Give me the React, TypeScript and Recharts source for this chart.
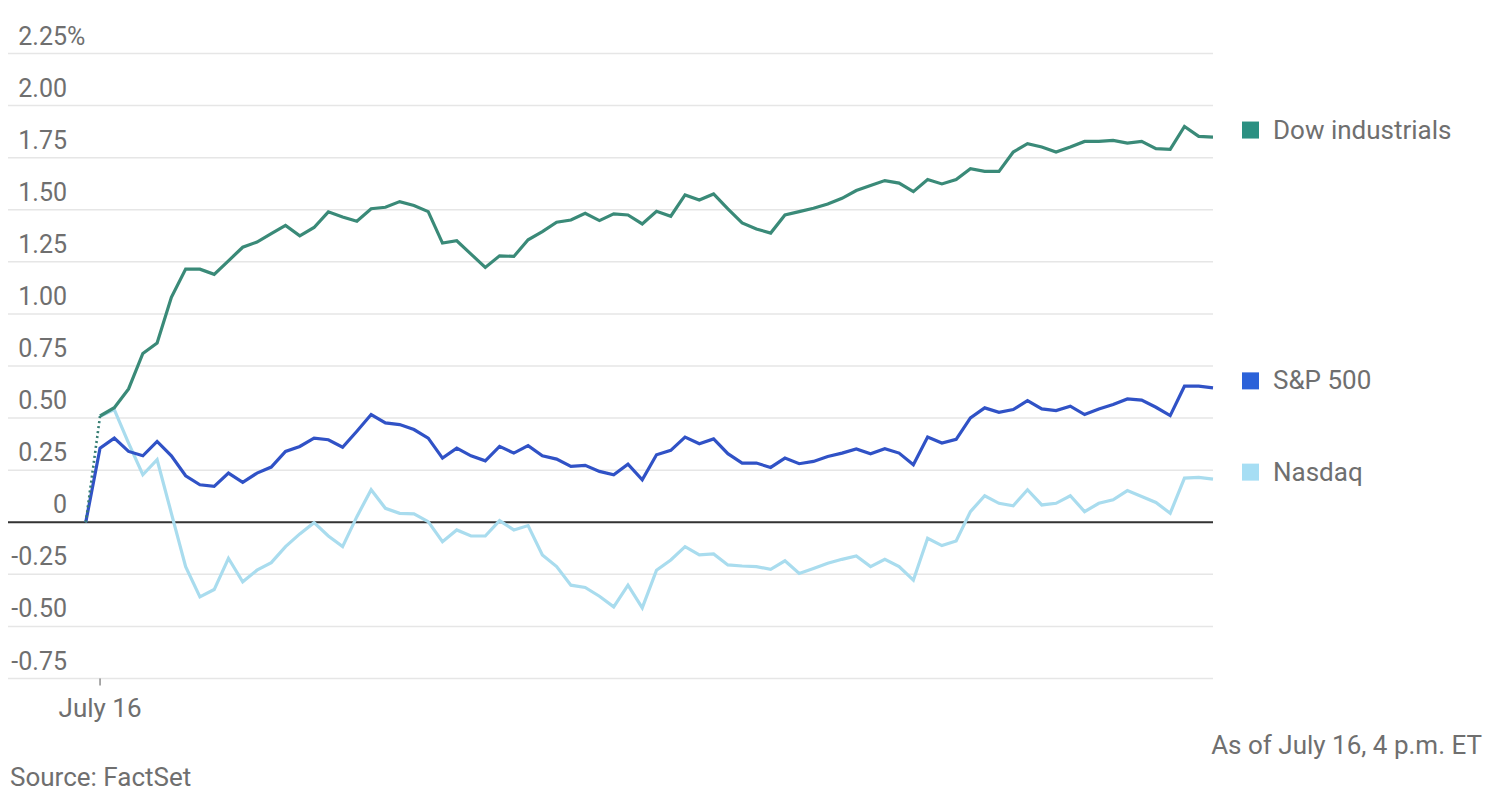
import React from "react";
import {
  LineChart,
  Line,
  XAxis,
  YAxis,
  CartesianGrid,
  ReferenceLine,
} from "recharts";

// index 0 = previous close, 1..79 = 5-minute readings through the session
const dowValues = [
  0, 0.51, 0.55, 0.64, 0.81, 0.86, 1.08, 1.215, 1.215, 1.19, 1.255,
  1.32, 1.345, 1.385, 1.425, 1.375, 1.415, 1.49, 1.465, 1.445, 1.505,
  1.512, 1.539, 1.52, 1.491, 1.34, 1.351, 1.287, 1.223, 1.279, 1.276,
  1.356, 1.395, 1.44, 1.451, 1.483, 1.448, 1.48, 1.475, 1.432, 1.493,
  1.469, 1.571, 1.547, 1.576, 1.504, 1.437, 1.408, 1.388, 1.475, 1.491,
  1.507, 1.528, 1.555, 1.592, 1.616, 1.64, 1.628, 1.587, 1.645, 1.624,
  1.645, 1.697, 1.684, 1.684, 1.777, 1.817, 1.801, 1.777, 1.801, 1.828,
  1.828, 1.833, 1.82, 1.828, 1.793, 1.79, 1.9, 1.852, 1.849,
];

const spValues = [
  0, 0.356, 0.404, 0.34, 0.319, 0.388, 0.319, 0.223, 0.18, 0.172, 0.236,
  0.191, 0.236, 0.265, 0.34, 0.364, 0.404, 0.396, 0.36, 0.437, 0.517,
  0.477, 0.469, 0.445, 0.404, 0.308, 0.356, 0.319, 0.295, 0.364, 0.332,
  0.368, 0.319, 0.303, 0.268, 0.273, 0.244, 0.228, 0.279, 0.204, 0.324,
  0.345, 0.409, 0.377, 0.4, 0.329, 0.284, 0.284, 0.263, 0.308, 0.281,
  0.292, 0.316, 0.332, 0.352, 0.329, 0.353, 0.332, 0.276, 0.409, 0.38,
  0.398, 0.501, 0.549, 0.528, 0.541, 0.584, 0.544, 0.536, 0.557, 0.517,
  0.544, 0.565, 0.592, 0.586, 0.552, 0.512, 0.653, 0.653, 0.645,
];

const nasdaqValues = [
  0, 0.509, 0.541, 0.38, 0.228, 0.3, 0.043, -0.213, -0.358, -0.323, -0.173,
  -0.286, -0.23, -0.194, -0.117, -0.056, -0.002, -0.066, -0.117, 0.027, 0.156,
  0.067, 0.043, 0.04, 0.003, -0.093, -0.037, -0.066, -0.066, 0.008, -0.037,
  -0.016, -0.157, -0.213, -0.302, -0.313, -0.355, -0.406, -0.302, -0.411, -0.23,
  -0.181, -0.117, -0.157, -0.152, -0.205, -0.21, -0.213, -0.226, -0.185, -0.246,
  -0.222, -0.197, -0.178, -0.162, -0.213, -0.178, -0.213, -0.278, -0.077, -0.112,
  -0.09, 0.051, 0.127, 0.091, 0.079, 0.156, 0.083, 0.091, 0.127, 0.051,
  0.091, 0.108, 0.152, 0.124, 0.095, 0.043, 0.212, 0.215, 0.207,
];

const yTicks = [-0.75, -0.5, -0.25, 0, 0.25, 0.5, 0.75, 1, 1.25, 1.5, 1.75, 2, 2.25];
const openTick = 1;
const openLabel = "July 16";

const lastIndex = dowValues.length - 1;

const data = dowValues.map((dow, i) => ({
  t: i,
  dow: i >= 1 ? dow : null,
  dowOpen: i <= 1 ? dow : null,
  sp: spValues[i],
  nasdaq: i >= 1 ? nasdaqValues[i] : null,
  nasdaqOpen: i <= 1 ? nasdaqValues[i] : null,
}));

const FONT = "Roboto, 'Noto Sans', sans-serif";
const TEXT = "#6f6f6f";

const YTick = ({ y, payload }: any) => {
  const v = payload.value;
  const label = v === 0 ? "0" : v.toFixed(2);
  return (
    <g>
      <text x={67} y={y - 9} textAnchor="end" fill={TEXT} fontSize={25} fontFamily={FONT}>
        {label}
      </text>
      {v === 2.25 && (
        <text x={67} y={y - 9} textAnchor="start" fill={TEXT} fontSize={25} fontFamily={FONT}>
          %
        </text>
      )}
    </g>
  );
};

const XTick = ({ x, y }: any) => (
  <text x={x} y={y + 29.5} textAnchor="middle" fill={TEXT} fontSize={26} fontFamily={FONT}>
    {openLabel}
  </text>
);

const endLabel = (name: string, color: string) => (props: any) => {
  const { cx, cy, index } = props;
  if (index !== lastIndex || cx == null || cy == null) return <g key={`e-${name}-${index}`} />;
  return (
    <g key={`e-${name}-${index}`}>
      <rect x={cx + 29} y={cy - 15.5} width={17} height={17} fill={color} />
      <text x={cx + 60} y={cy + 1.5} fill={TEXT} fontSize={26} fontFamily={FONT}>
        {name}
      </text>
    </g>
  );
};

export default function App() {
  return (
    <div style={{ position: "absolute", left: 0, top: 0, width: 1494, height: 800, background: "#fff" }}>
      <LineChart
        width={1494}
        height={800}
        data={data}
        margin={{ top: 53.5, right: 281, left: 6, bottom: 81.5 }}
      >
        <CartesianGrid vertical={false} stroke="#e6e6e6" strokeWidth={1.5} />
        <XAxis
          dataKey="t"
          type="number"
          domain={[-5.45, lastIndex]}
          ticks={[openTick]}
          tick={<XTick />}
          tickSize={7}
          tickLine={{ stroke: "#555", strokeWidth: 1 }}
          axisLine={false}
          height={40}
        />
        <YAxis
          domain={[-0.75, 2.25]}
          ticks={yTicks}
          width={2}
          axisLine={false}
          tickLine={false}
          tick={<YTick />}
          interval={0}
        />
        <ReferenceLine y={0} stroke="#333" strokeWidth={2} />
        <Line
          dataKey="nasdaqOpen"
          stroke="#a9dcee"
          strokeWidth={2.5}
          strokeDasharray="2 3"
          dot={false}
          activeDot={false}
          isAnimationActive={false}
        />
        <Line
          dataKey="nasdaq"
          stroke="#a9dcee"
          strokeWidth={3.2}
          dot={endLabel("Nasdaq", "#a6def4")}
          activeDot={false}
          isAnimationActive={false}
        />
        <Line
          dataKey="sp"
          stroke="#3052c6"
          strokeWidth={3.2}
          dot={endLabel("S&P 500", "#2b62d9")}
          activeDot={false}
          isAnimationActive={false}
        />
        <Line
          dataKey="dowOpen"
          stroke="#3a7d6f"
          strokeWidth={2.5}
          strokeDasharray="2 3"
          dot={false}
          activeDot={false}
          isAnimationActive={false}
        />
        <Line
          dataKey="dow"
          stroke="#3a8a78"
          strokeWidth={3.2}
          dot={endLabel("Dow industrials", "#2b9082")}
          activeDot={false}
          isAnimationActive={false}
        />
      </LineChart>
      <svg width={1494} height={800} style={{ position: "absolute", left: 0, top: 0, pointerEvents: "none" }}>
        <text x={1482} y={754} textAnchor="end" fill={TEXT} fontSize={26} fontFamily={FONT}>
          As of July 16, 4 p.m. ET
        </text>
        <text x={10} y={786} fill={TEXT} fontSize={26} fontFamily={FONT}>
          Source: FactSet
        </text>
      </svg>
    </div>
  );
}
